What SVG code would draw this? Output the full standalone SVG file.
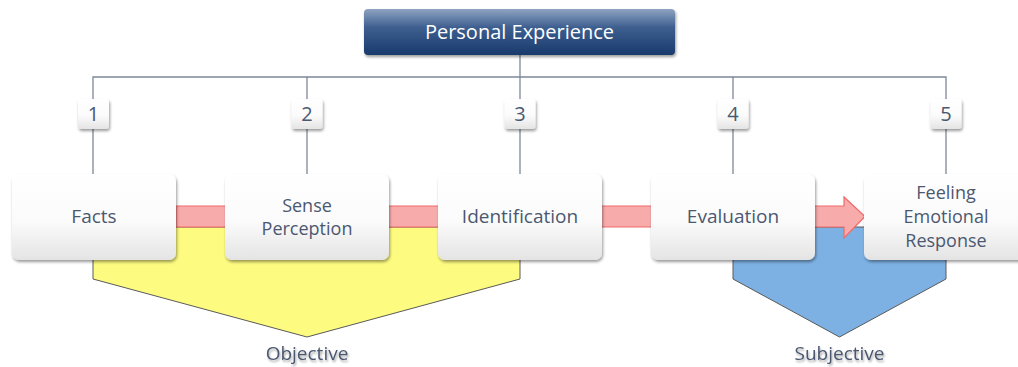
<svg xmlns="http://www.w3.org/2000/svg" width="1018" height="367" viewBox="0 0 1018 367">
<defs>
<linearGradient id="gBox" x1="0" y1="0" x2="0" y2="1">
<stop offset="0" stop-color="#ffffff"/>
<stop offset="0.55" stop-color="#fbfbfb"/>
<stop offset="1" stop-color="#e4e4e4"/>
</linearGradient>
<linearGradient id="gTop" x1="0" y1="0" x2="0" y2="1">
<stop offset="0" stop-color="#8fa3c2"/>
<stop offset="0.4" stop-color="#3e5f8f"/>
<stop offset="1" stop-color="#183a6c"/>
</linearGradient>
<filter id="sh" x="-10%" y="-10%" width="125%" height="135%">
<feGaussianBlur in="SourceAlpha" stdDeviation="1.6"/>
<feOffset dx="1" dy="2" result="o"/>
<feComponentTransfer><feFuncA type="linear" slope="0.4"/></feComponentTransfer>
<feMerge><feMergeNode/><feMergeNode in="SourceGraphic"/></feMerge>
</filter>
<filter id="tsh" x="-10%" y="-30%" width="120%" height="170%">
<feGaussianBlur in="SourceAlpha" stdDeviation="1.2"/>
<feOffset dx="1" dy="2"/>
<feComponentTransfer><feFuncA type="linear" slope="0.35"/></feComponentTransfer>
<feMerge><feMergeNode/><feMergeNode in="SourceGraphic"/></feMerge>
</filter>
</defs>
<style>
.box{fill:url(#gBox);filter:url(#sh);}
.num{fill:url(#gBox);filter:url(#sh);}
.lbl{font-family:"Open Sans","Noto Sans","DejaVu Sans",sans-serif;font-size:19px;fill:#4b5870;text-anchor:middle;}
.ml{font-family:"Open Sans","Noto Sans","DejaVu Sans",sans-serif;font-size:18px;fill:#4b5870;text-anchor:middle;}
.nl{font-family:"Open Sans","Noto Sans","DejaVu Sans",sans-serif;font-size:20px;fill:#4b5870;text-anchor:middle;}
.ln{stroke:#7d8799;stroke-width:1.3;fill:none;}
.cat{font-family:"Open Sans","Noto Sans","DejaVu Sans",sans-serif;font-size:19px;fill:#4b5870;text-anchor:middle;filter:url(#tsh);}
</style>
<rect width="1018" height="367" fill="#ffffff"/>

<g id="objective">
<polygon points="93,227 520,227 520,279 307,337 93,279" fill="#fdfb80" stroke="#5a5a5a" stroke-width="1"/>
<text class="cat" x="307" y="360">Objective</text>
</g>
<g id="subjective">
<polygon points="733,227 946,227 946,279 839.5,337 733,279" fill="#7db1e3" stroke="#5a5a5a" stroke-width="1"/>
<text class="cat" x="839.5" y="360">Subjective</text>
</g>

<g id="connectors">
<polyline class="ln" points="93,174 93,77 946,77 946,174"/>
<line class="ln" x1="307" y1="77" x2="307" y2="174"/>
<line class="ln" x1="520" y1="55" x2="520" y2="174"/>
<line class="ln" x1="733" y1="77" x2="733" y2="174"/>
<polygon points="176,206 844,206 844,197 865,216.5 844,238 844,227 176,227" fill="#f8abab" stroke="#f06a6a" stroke-width="1.2"/>
</g>

<g id="personal-experience">
<rect x="364" y="9" width="311" height="46" rx="4" fill="url(#gTop)" filter="url(#sh)"/>
<text x="519.5" y="39" font-family="'Open Sans','Noto Sans','DejaVu Sans',sans-serif" font-size="20" fill="#ffffff" text-anchor="middle">Personal Experience</text>
</g>

<g id="n1"><rect class="num" x="78" y="99" width="31" height="30" rx="3"/><text class="nl" x="93.5" y="121">1</text></g>
<g id="n2"><rect class="num" x="291.5" y="99" width="31" height="30" rx="3"/><text class="nl" x="307" y="121">2</text></g>
<g id="n3"><rect class="num" x="504.5" y="99" width="31" height="30" rx="3"/><text class="nl" x="520" y="121">3</text></g>
<g id="n4"><rect class="num" x="717.5" y="99" width="31" height="30" rx="3"/><text class="nl" x="733" y="121">4</text></g>
<g id="n5"><rect class="num" x="930.5" y="99" width="31" height="30" rx="3"/><text class="nl" x="946" y="121">5</text></g>

<g id="facts"><rect class="box" x="12" y="174" width="164" height="86" rx="7"/><text class="lbl" x="94" y="223">Facts</text></g>
<g id="sense"><rect class="box" x="225" y="174" width="164" height="86" rx="7"/><text class="ml" x="307" y="211.5">Sense</text><text class="ml" x="307" y="235">Perception</text></g>
<g id="identification"><rect class="box" x="438" y="174" width="164" height="86" rx="7"/><text class="lbl" x="520" y="223">Identification</text></g>
<g id="evaluation"><rect class="box" x="651" y="174" width="164" height="86" rx="7"/><text class="lbl" x="733" y="223">Evaluation</text></g>
<g id="feeling"><rect class="box" x="864" y="174" width="164" height="86" rx="7"/><text class="ml" x="946" y="199">Feeling</text><text class="ml" x="946" y="223">Emotional</text><text class="ml" x="946" y="247">Response</text></g>
</svg>
